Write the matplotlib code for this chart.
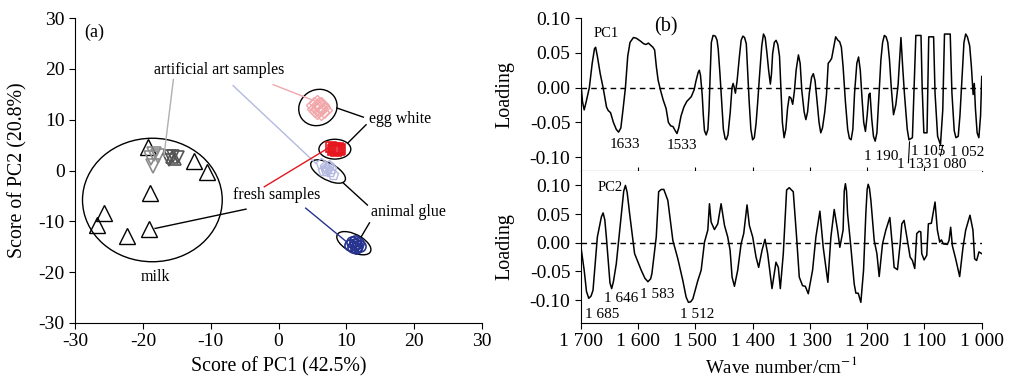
import matplotlib
matplotlib.use("Agg")
import matplotlib.pyplot as plt
from matplotlib.patches import Ellipse
import numpy as np

plt.rcParams['font.family'] = ['Liberation Serif', 'DejaVu Serif']
plt.rcParams['mathtext.fontset'] = 'stix'
plt.rcParams['axes.unicode_minus'] = False

# ---- panel (a) PCA scores ----
milk_x = [-19.2, -12.5, -10.6, -19.0, -25.7, -26.7, -22.3, -19.1]
milk_y = [4.7, 1.9, -0.2, -4.5, -8.3, -10.7, -12.8, -11.6]
milk_art_light_x = [-18.3, -18.8, -18.5, -17.8]
milk_art_light_y = [3.2, 2.5, 0.8, 2.9]
milk_art_dark_x = [-16.2, -15.5, -14.8, -16.0, -15.7, -15.2]
milk_art_dark_y = [2.0, 2.8, 2.6, 2.9, 2.6, 2.2]
egg_art_x = [5.2, 5.6, 6.0, 6.4, 6.7, 6.2, 5.7, 5.4, 6.0, 6.3]
egg_art_y = [12.8, 13.2, 12.9, 12.4, 12.0, 11.6, 11.8, 12.2, 12.3, 12.9]
egg_fresh_x = [7.8, 8.2, 8.6, 8.9, 8.4, 8.0, 8.7, 9.1, 8.3]
egg_fresh_y = [4.6, 4.4, 4.2, 4.0, 3.8, 4.1, 4.5, 4.3, 4.2]
glue_art_x = [6.3, 6.8, 7.2, 7.6, 8.0, 7.0, 7.4, 6.6, 7.8]
glue_art_y = [1.2, 0.6, 0.2, -0.3, -0.8, -0.1, 0.8, 0.0, 0.3]
glue_fresh_x = [10.8, 11.2, 11.5, 11.0, 11.7, 11.3, 12.0, 10.6, 11.4]
glue_fresh_y = [-14.0, -14.4, -14.8, -15.0, -14.2, -13.8, -14.9, -14.6, -15.3]

pc1 = [(1700, 0.010), (1697, -0.020), (1694, -0.032), (1691, -0.022), (1685, 0.000),
       (1680, 0.035), (1676, 0.056), (1674, 0.058), (1671, 0.045), (1666, 0.020),
       (1661, 0.000), (1655, -0.028), (1652, -0.033), (1648, -0.036), (1643, -0.050),
       (1638, -0.060), (1634, -0.064), (1630, -0.058), (1626, -0.030), (1622, 0.000),
       (1618, 0.045), (1614, 0.065), (1608, 0.072), (1603, 0.071), (1596, 0.067),
       (1590, 0.063), (1586, 0.062), (1582, 0.064), (1578, 0.061), (1574, 0.058),
       (1571, 0.054), (1568, 0.030), (1565, 0.011), (1561, -0.003), (1556, -0.018),
       (1551, -0.030), (1547, -0.050), (1543, -0.055), (1539, -0.056), (1535, -0.062),
       (1532, -0.066), (1529, -0.058), (1525, -0.041), (1520, -0.028), (1515, -0.020),
       (1507, -0.013), (1502, -0.003), (1499, 0.009), (1495, 0.022), (1493, 0.025),
       (1491, 0.018), (1488, -0.010), (1486, -0.040), (1484, -0.062), (1481, -0.068),
       (1478, -0.060), (1476, -0.030), (1474, 0.020), (1472, 0.065), (1469, 0.075),
       (1465, 0.074), (1462, 0.068), (1460, 0.055), (1457, 0.020), (1454, -0.020),
       (1451, -0.060), (1448, -0.073), (1446, -0.075), (1443, -0.068), (1439, -0.035),
       (1436, 0.000), (1434, 0.006), (1432, 0.000), (1430, -0.008), (1427, 0.010),
       (1423, 0.045), (1420, 0.068), (1417, 0.074), (1414, 0.072), (1411, 0.063),
       (1409, 0.030), (1406, -0.020), (1403, -0.060), (1400, -0.075), (1397, -0.072),
       (1394, -0.052), (1391, -0.020), (1388, 0.016), (1384, 0.060), (1381, 0.077),
       (1378, 0.072), (1375, 0.050), (1372, 0.025), (1369, 0.005), (1367, 0.020),
       (1365, 0.049), (1362, 0.065), (1359, 0.068), (1356, 0.062), (1353, 0.045),
       (1350, -0.010), (1348, -0.050), (1345, -0.072), (1342, -0.060), (1339, -0.030),
       (1336, -0.013), (1333, -0.015), (1330, -0.024), (1327, -0.005), (1324, 0.025),
       (1320, 0.047), (1317, 0.035), (1314, -0.005), (1310, -0.035), (1307, -0.046),
       (1304, -0.035), (1301, -0.008), (1297, 0.015), (1294, 0.020), (1291, 0.010),
       (1288, -0.015), (1284, -0.050), (1281, -0.065), (1278, -0.058), (1274, -0.035),
       (1271, -0.010), (1268, 0.035), (1265, 0.038), (1262, 0.042), (1258, 0.060),
       (1255, 0.073), (1251, 0.068), (1248, 0.066), (1245, 0.058), (1242, 0.030),
       (1238, -0.020), (1234, -0.060), (1231, -0.073), (1228, -0.075), (1225, -0.060),
       (1222, -0.008), (1218, 0.035), (1215, 0.044), (1212, 0.025), (1209, -0.015),
       (1206, -0.050), (1203, -0.063), (1200, -0.040), (1197, -0.010), (1195, -0.008),
       (1192, -0.045), (1189, -0.070), (1186, -0.077), (1183, -0.065), (1180, -0.020),
       (1176, 0.040), (1173, 0.065), (1170, 0.075), (1167, 0.073), (1164, 0.065),
       (1161, 0.040), (1158, 0.001), (1154, -0.039), (1150, -0.025), (1146, 0.004),
       (1141, 0.072), (1138, 0.030), (1135, -0.008), (1130, -0.060), (1127, -0.075),
       (1121, -0.072), (1118, 0.001), (1115, 0.075), (1106, 0.075), (1104, 0.001),
       (1101, -0.065), (1095.5, -0.065), (1092.5, 0.073), (1084, 0.073), (1081.5, -0.008),
       (1077, -0.070), (1072, -0.082), (1068, -0.032), (1065, 0.077), (1055, 0.077),
       (1052, -0.008), (1048, -0.062), (1045, -0.072), (1041, -0.070), (1038, -0.040),
       (1034, 0.020), (1031, 0.065), (1028, 0.077), (1025, 0.073), (1021, 0.060),
       (1018, 0.030), (1015, -0.010), (1013, 0.006), (1011, -0.030), (1008, -0.065),
       (1005, -0.072), (1002, -0.040), (1000, 0.016)]

pc2 = [(1700, -0.005), (1694, -0.048), (1690, -0.085), (1686, -0.097), (1682, -0.093),
       (1678.6, -0.083), (1671, 0.010), (1664, 0.045), (1661, 0.052), (1658, 0.040),
       (1655.3, 0.010), (1649, -0.070), (1646, -0.080), (1643, -0.068), (1638, -0.037),
       (1629, 0.051), (1625, 0.090), (1622, 0.100), (1619, 0.088), (1614.7, 0.051),
       (1606, -0.019), (1594.4, -0.048), (1588, -0.062), (1582.7, -0.068), (1578, -0.063),
       (1575.8, -0.054), (1568.2, 0.010), (1564, 0.089), (1559.5, 0.093), (1555, 0.093),
       (1548, 0.074), (1539.2, 0.004), (1530.5, -0.028), (1521.8, -0.066), (1516, -0.095),
       (1512, -0.104), (1508, -0.103), (1504.3, -0.098), (1495.6, -0.066), (1489.8, -0.048),
       (1484, 0.001), (1478.2, 0.022), (1475.3, 0.068), (1472.4, 0.036), (1466.6, 0.023),
       (1460.8, 0.033), (1455, 0.068), (1449, 0.030), (1443.4, 0.010), (1439.3, -0.013),
       (1435.8, -0.060), (1431.7, -0.076), (1426, -0.048), (1420.1, -0.002), (1415.5, 0.016),
       (1409.7, 0.066), (1405.6, 0.030), (1399.8, 0.010), (1394, -0.025), (1389.4, -0.043),
       (1383.5, -0.013), (1378.3, 0.006), (1373.7, -0.019), (1366.1, -0.080), (1359.2, -0.034),
       (1355.1, -0.043), (1351.6, -0.080), (1346.4, -0.019), (1340.6, 0.092), (1336, 0.096),
       (1329, 0.089), (1323.2, 0.010), (1318.5, -0.060), (1312.7, -0.075), (1308, -0.076),
       (1302.8, -0.089), (1295.3, -0.048), (1289.5, 0.010), (1282.5, 0.055), (1276.7, -0.008),
       (1268.6, -0.069), (1263.3, 0.010), (1257.5, 0.058), (1251.7, 0.022), (1247.7, -0.008),
       (1242, 0.022), (1240, 0.090), (1238, 0.103), (1236, 0.090), (1234.2, 0.051),
       (1228.4, -0.008), (1222.6, -0.072), (1219.7, -0.088), (1215.6, -0.088), (1211, -0.104),
       (1206.3, -0.048), (1202.3, 0.051), (1200, 0.093), (1198.2, 0.102), (1196, 0.095),
       (1193.5, 0.074), (1187.7, 0.004), (1183, -0.019), (1179, -0.059), (1173.2, -0.002),
       (1167.4, 0.022), (1160.4, 0.044), (1155.8, -0.008), (1152.9, -0.043), (1147.1, -0.047),
       (1142.4, -0.002), (1139.5, 0.033), (1135.5, 0.039), (1129.7, 0.004), (1125, -0.025),
       (1121, -0.031), (1116.9, -0.045), (1113.4, 0.016), (1109.3, 0.020), (1106.4, 0.019),
       (1104.7, -0.019), (1100.6, -0.030), (1096, -0.022), (1093.1, 0.033), (1087.9, 0.034),
       (1081.5, 0.071), (1077.4, 0.022), (1073.3, 0.001), (1070.4, 0.005), (1067, -0.002),
       (1060, -0.003), (1057.1, 0.004), (1054.2, 0.027), (1051.3, -0.005), (1045.5, -0.028),
       (1038.5, -0.059), (1032.7, -0.008), (1028, 0.022), (1020.5, 0.048), (1015.3, 0.022),
       (1012.4, -0.028), (1008.9, -0.031), (1004.8, -0.016), (1000, -0.019)]

pc1_labels = ["1633", "1533", "1 190", "1 105", "1 052", "1 133", "1 080"]
pc1_label_pos = [(1623, -0.082), (1524, -0.083), (1176, -0.099), (1094, -0.092),
                 (1026, -0.093), (1118, -0.110), (1057, -0.110)]
pc2_labels = ["1 685", "1 646", "1 583", "1 512"]
pc2_label_pos = [(1663, -0.125), (1630, -0.098), (1566, -0.090), (1496, -0.125)]

pc1_wn = [p[0] for p in pc1]
pc1_val = [p[1] for p in pc1]
pc2_wn = [p[0] for p in pc2]
pc2_val = [p[1] for p in pc2]

fig = plt.figure(figsize=(10.1, 3.76), dpi=100)

# ------------- (a) -------------
ax = fig.add_axes([0.0743, 0.141, 0.403, 0.811])
ax.plot(milk_x, milk_y, ls='none', marker='^', ms=12, mfc='none', mec='black', mew=1.0)
ax.plot(milk_art_light_x, milk_art_light_y, ls='none', marker='v', ms=10, mfc='none', mec='#8c8c8c', mew=1.2)
ax.plot(milk_art_dark_x[:4], milk_art_dark_y[:4], ls='none', marker='v', ms=9, mfc='none', mec='#555555', mew=1.2)
ax.plot(milk_art_dark_x[4:], milk_art_dark_y[4:], ls='none', marker='^', ms=9, mfc='none', mec='#555555', mew=1.2)
ax.plot(egg_art_x, egg_art_y, ls='none', marker='D', ms=8, mfc='none', mec='#f2a7ab', mew=1.0)
ax.plot(egg_fresh_x, egg_fresh_y, ls='none', marker='s', ms=7, mfc='none', mec='#e5161e', mew=1.2)
ax.plot(glue_art_x, glue_art_y, ls='none', marker='p', ms=8, mfc='none', mec='#b3b9e0', mew=1.0)
ax.plot(glue_fresh_x, glue_fresh_y, ls='none', marker='o', ms=8, mfc='none', mec='#26338f', mew=1.2)

# ellipses round groups
for cx, cy, w, h, a in [(-18.6, -5.8, 20.6, 24.3, 0), (5.8, 12.4, 5.6, 7.2, -10),
                        (8.3, 4.2, 4.7, 3.9, 0), (7.3, -0.2, 6.2, 3.0, -40),
                        (11.1, -14.3, 6.0, 3.2, -40)]:
    ax.add_patch(Ellipse((cx, cy), w, h, angle=a, fill=False, ec='black', lw=1.0))

# leader lines
ax.plot([-15.5, -16.9], [17.9, 2.8], color='#b0b0b0', lw=1)
ax.plot([-0.8, 5.5], [16.9, 13.6], color='#f2a7ab', lw=1)
ax.plot([-6.7, 5.5], [16.7, 1.4], color='#b3b9e0', lw=1)
ax.plot([-2.1, 7.3], [-3.2, 4.4], color='#e5161e', lw=1)
ax.plot([4.0, 10.0], [-7.4, -14.0], color='#26338f', lw=1)
ax.plot([8.6, 12.5], [12.3, 10.5], color='black', lw=1)
ax.plot([12.9, 10.2], [9.0, 5.4], color='black', lw=1)
ax.plot([-4.8, -18.2], [-7.6, -11.4], color='black', lw=1)
ax.plot([9.5, 13.1], [-2.4, -6.8], color='black', lw=1)
ax.plot([13.4, 12.2], [-10.3, -13.0], color='black', lw=1)

ax.text(-8.8, 19.7, "artificial art samples", ha='center', va='center', fontsize=11.5)
ax.text(13.4, 10.1, "egg white", ha='left', va='center', fontsize=11.5)
ax.text(-6.7, -4.9, "fresh samples", ha='left', va='center', fontsize=11.5)
ax.text(13.6, -8.2, "animal glue", ha='left', va='center', fontsize=11.5)
ax.text(-18.2, -20.9, "milk", ha='center', va='center', fontsize=11.5)
ax.text(-28.6, 27.1, "(a)", ha='left', va='center', fontsize=13)

ax.set_xlim(-30, 30)
ax.set_ylim(-30, 30)
ax.set_xticks(np.arange(-30, 31, 10))
ax.set_yticks(np.arange(-30, 31, 10))
ax.spines['top'].set_visible(False)
ax.spines['right'].set_visible(False)
ax.tick_params(labelsize=14, direction='out', length=4)
ax.set_xlabel("Score of PC1 (42.5%)", fontsize=14.3, labelpad=5)
ax.set_ylabel("Score of PC2 (20.8%)", fontsize=14.3, labelpad=8)

# ------------- (b) -------------
ax1 = fig.add_axes([0.575, 0.545, 0.397, 0.407])
ax2 = fig.add_axes([0.575, 0.141, 0.397, 0.404])

ax1.plot(pc1_wn, pc1_val, color='black', lw=1.1)
ax2.plot(pc2_wn, pc2_val, color='black', lw=1.1)
for a in (ax1, ax2):
    a.axhline(0, color='black', ls='--', lw=1, dashes=(4, 3))
    a.set_xlim(1700, 1000)
    a.spines['top'].set_visible(False)
    a.spines['right'].set_visible(False)
    a.set_yticks([-0.10, -0.05, 0.00, 0.05, 0.10])
    a.set_yticklabels(["-0.10", "-0.05", "0.00", "0.05", "0.10"])
    a.set_ylabel("Loading", fontsize=14.5, labelpad=11)
    a.tick_params(axis='y', labelsize=14, direction='out', length=4)

ax1.set_ylim(-0.12, 0.10)
ax2.set_ylim(-0.14, 0.125)
ax1.set_xticks([1600, 1500, 1400, 1300, 1200, 1100])
ax1.tick_params(axis='x', direction='in', length=3, labelbottom=False)
ax2.set_xticks(np.arange(1700, 999, -100))
ax2.set_xticklabels(["1 700", "1 600", "1 500", "1 400", "1 300", "1 200", "1 100", "1 000"])
ax2.tick_params(axis='x', labelsize=14, direction='out', length=4)
ax2.set_xlabel("Wave number/cm$^{-1}$", fontsize=13.7, labelpad=4)

ax1.text(1655, 0.078, "PC1", ha='center', va='center', fontsize=10.5)
ax1.text(1552, 0.088, "(b)", ha='center', va='center', fontsize=14.5)
for lab, (px, py) in zip(pc1_labels, pc1_label_pos):
    ax1.text(px, py, lab, ha='center', va='center', fontsize=11)
ax1.plot([1128, 1126], [-0.108, -0.078], color='black', lw=0.8, clip_on=False)
ax1.plot([1072, 1068], [-0.098, -0.083], color='black', lw=0.8)

ax2.text(1649, 0.097, "PC2", ha='center', va='center', fontsize=10.5)
for lab, (px, py) in zip(pc2_labels, pc2_label_pos):
    ax2.text(px, py, lab, ha='center', va='center', fontsize=11)

fig.savefig("out.png", dpi=100)
